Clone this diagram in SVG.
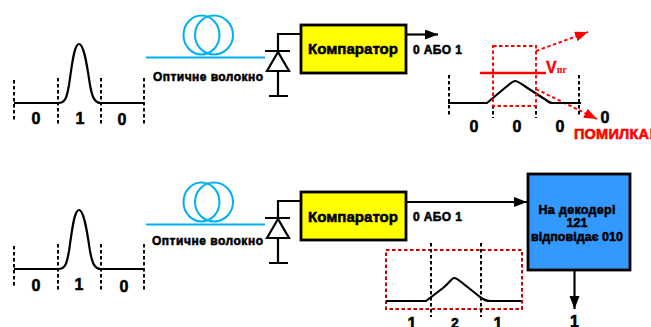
<svg xmlns="http://www.w3.org/2000/svg" width="651" height="327" viewBox="0 0 651 327">
<style>
text{font-family:"Liberation Sans",Arial,sans-serif;font-weight:bold;fill:#000;text-anchor:middle}
.t{stroke:#000;stroke-width:.55px}
.wire{fill:none;stroke:#000;stroke-width:2.200}
.dash{fill:none;stroke:#000;stroke-width:2;stroke-dasharray:3.500 2.500}
.fib{fill:none;stroke:#00b0f0;stroke-width:2}
.rd{fill:none;stroke:#f00;stroke-width:1.900;stroke-dasharray:3.500 2.500}
.box{stroke:#000;stroke-width:2.800}
.bit{font-size:16px}
.lab{font-size:12px}
</style>
<defs>
<marker id="ah" markerUnits="userSpaceOnUse" markerWidth="14" markerHeight="12" refX="13" refY="5" orient="auto"><path d="M0 0L13 5L0 10Z" fill="#000"/></marker>
<marker id="ar" markerUnits="userSpaceOnUse" markerWidth="14" markerHeight="12" refX="13" refY="5" orient="auto"><path d="M0 0L13 5L0 10Z" fill="#f00"/></marker>
<g id="pulse">
<path class="dash" d="M14 80V122M58 78V126M101 78V126M144 78V126"/>
<path class="wire" d="M14 103H58C66 103 67 96 69 85C72 65 74 44 79 44C84 44 87 65 90 85C92 96 94 103 101 103H144"/>
</g>
<g id="fiber">
<ellipse class="fib" cx="201.500" cy="35" rx="18" ry="19.500"/>
<ellipse class="fib" cx="214" cy="35" rx="19" ry="19.500"/>
<path d="M146 57.500H265" stroke="#00b0f0" stroke-width="2.200" fill="none"/>
</g>
<g id="diode">
<path class="wire" d="M301 34H278V51M265 51H290M278 71V96M269 96H288M278 52L267 71H289Z"/>
</g>
</defs>
<g id="connectors">
<path class="wire" d="M406 34.500H438" marker-end="url(#ah)"/>
<path class="wire" d="M406 202H527" marker-end="url(#ah)"/>
<path class="wire" d="M574.500 271V309" marker-end="url(#ah)"/>
<path class="rd" d="M536 51L588 32" marker-end="url(#ar)"/>
<path class="rd" d="M536 89L597 119" marker-end="url(#ar)"/>
</g>
<g id="signal-in-top"><use href="#pulse"/></g>
<g id="fiber-top"><use href="#fiber"/><text class="lab t" x="208" y="81" textLength="110" lengthAdjust="spacing">Оптичне волокно</text></g>
<g id="diode-top"><use href="#diode"/></g>
<g id="comparator-top"><rect class="box" x="301" y="25" width="105" height="48" fill="#ff0"/><text class="t" x="353" y="54" font-size="15" textLength="90" lengthAdjust="spacing">Компаратор</text></g>
<g id="output-top"><text class="lab t" x="437.500" y="54" textLength="49" lengthAdjust="spacing">0 АБО 1</text></g>
<g id="bits-top"><text class="bit t" x="36" y="124">0</text><text class="bit t" x="80" y="124">1</text><text class="bit t" x="122" y="125">0</text></g>
<g id="signal-out-top">
<path class="dash" d="M449 75V117M493 105V118M536 105V118M579 75V117"/>
<path class="wire" d="M448 103H487L506 87C511 83 513 81 515 81C518 81 520 83 526 87L546 100C550 103 551 103 552 103H581"/>
<rect class="rd" x="493" y="46" width="43" height="60"/>
<path d="M480 73H546" stroke="#f00" stroke-width="2.400" fill="none"/>
<text x="546" y="73" font-size="16" style="fill:#f00;text-anchor:start;stroke:#f00;stroke-width:.4px">V<tspan font-size="10" font-family="Liberation Serif" style="stroke:none">пг</tspan></text>
<text class="bit t" x="474" y="132">0</text><text class="bit t" x="517" y="132">0</text><text class="bit t" x="560" y="132">0</text><text class="bit t" x="605" y="123">0</text>
<text x="574" y="139" font-size="14.500" textLength="80" lengthAdjust="spacing" style="fill:#f00;text-anchor:start;stroke:#f00;stroke-width:.6px">ПОМИЛКА!</text>
</g>
<g id="signal-in-bottom" transform="translate(0,166)"><use href="#pulse"/></g>
<g id="fiber-bottom"><g transform="translate(0,167)"><use href="#fiber"/></g><text class="lab t" x="207.500" y="245" textLength="111" lengthAdjust="spacing">Оптичне волокно</text></g>
<g id="diode-bottom" transform="translate(0,167)"><use href="#diode"/></g>
<g id="comparator-bottom"><rect class="box" x="301" y="192" width="105" height="48" fill="#ff0"/><text class="t" x="353" y="222" font-size="15" textLength="90" lengthAdjust="spacing">Компаратор</text></g>
<g id="output-bottom"><text class="lab t" x="437.500" y="221" textLength="49" lengthAdjust="spacing">0 АБО 1</text></g>
<g id="bits-bottom"><text class="bit t" x="36" y="291">0</text><text class="bit t" x="79" y="290">1</text><text class="bit t" x="124" y="292">0</text></g>
<g id="decoder"><rect class="box" x="528" y="174" width="102" height="96" fill="#3399ff"/><text class="t" font-size="12.500" x="577" y="214" textLength="77" lengthAdjust="spacing">На декодері</text><text class="t" font-size="12.500" x="577" y="227">121</text><text class="t" font-size="12.500" x="577" y="241" textLength="92" lengthAdjust="spacing">відповідає 010</text></g>
<g id="output-decoder"><text class="bit t" x="574.500" y="327">1</text></g>
<g id="signal-decoded">
<rect x="386" y="250" width="136" height="59" fill="none" stroke="#c00000" stroke-width="2" stroke-dasharray="3.500 2.500"/>
<path class="dash" d="M431 243V317M481 243V317"/>
<path class="wire" d="M386 301H426L443 288C449 283 452 278 454 278C457 278 460 281 465 285L480 297C484 300 488 301 490 301H521"/>
<text class="bit t" x="412" y="329">1</text><text class="t" x="455" y="328" font-size="14">2</text><text class="bit t" x="498" y="329">1</text>
</g>
</svg>
